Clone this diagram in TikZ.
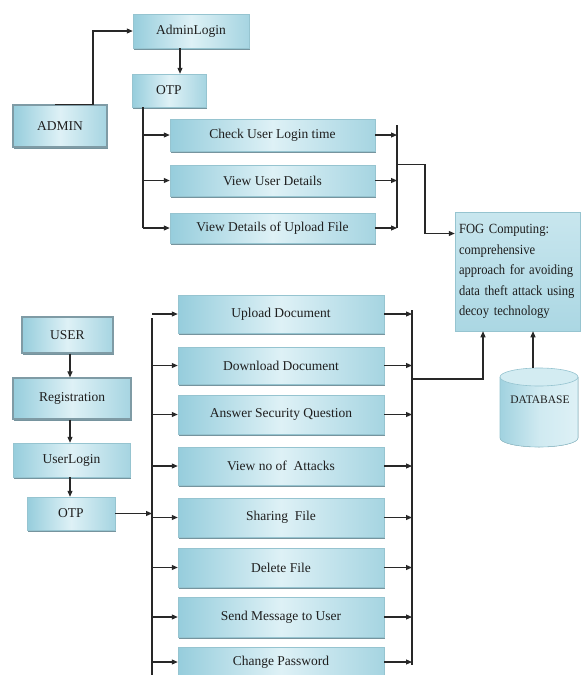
\documentclass[tikz,border=0pt]{standalone}
\usepackage{fontspec}
\setmainfont{Liberation Serif}
\newfontfamily\fogfont[FakeStretch=0.9]{Liberation Serif}
\usetikzlibrary{arrows.meta,shadows,calc}
\definecolor{boxside}{RGB}{150,205,220}
\definecolor{boxlight}{RGB}{222,241,246}
\definecolor{boxedge}{RGB}{150,196,208}
\definecolor{boxshadow}{RGB}{95,130,142}
\definecolor{textcol}{RGB}{30,30,30}
\definecolor{linecol}{RGB}{40,40,40}
\begin{document}
\begin{tikzpicture}[x=1pt,y=-1pt,
  box/.style={rectangle, draw=boxedge, line width=0.5pt,
    left color=boxside, right color=boxside!85!white, middle color=boxlight,
    drop shadow={shadow xshift=1.2pt, shadow yshift=-2.4pt, fill=boxshadow, opacity=0.85},
    font=\fontsize{13.5}{15}\selectfont, text=textcol, inner sep=2pt},
  bevel/.style={box, draw=boxshadow!80, line width=1.2pt},
  arr/.style={-{Triangle[length=6pt,width=5pt]}, line width=1.1pt, draw=linecol},
  ln/.style={line width=1.1pt, draw=linecol}]
\useasboundingbox[fill=white] (0,0) rectangle (581,675);

% admin part
\node[bevel, minimum width=94pt, minimum height=42pt] (admin) at (60,126) {ADMIN};
\node[box, minimum width=116pt, minimum height=34pt] (adminlogin) at (191,31) {AdminLogin};
\node[box, minimum width=74pt, minimum height=33pt] (otpa) at (169,90.5) {OTP};
\node[box, minimum width=205pt, minimum height=32pt] (check) at (272.5,135) {Check User Login time};
\node[box, minimum width=205pt, minimum height=31pt] (vud) at (272.5,180.5) {View User Details};
\node[box, minimum width=205pt, minimum height=30pt] (vdu) at (272.5,228) {View Details of Upload File};

% fog box
\node[rectangle, draw=boxedge, line width=0.5pt, top color=boxlight!70!boxside, bottom color=boxside!80!white,
  minimum width=125pt, minimum height=119pt, text width=117pt, inner xsep=4pt, inner ysep=3pt, align=left,
  font=\fogfont\fontsize{14}{20.5}\selectfont, text=textcol] (fog) at (517.5,271.5)
  {FOG Computing:\\comprehensive\\approach for avoiding\\data theft attack using\\decoy technology};

% database cylinder
\fill[left color=boxside!90!white, right color=boxlight, middle color=boxlight!80!boxside]
  (500,377) -- (500,438) .. controls (500,442.97) and (517.46,447) .. (539,447)
  .. controls (560.54,447) and (578,442.97) .. (578,438) -- (578,377) -- cycle;
\draw[boxedge, line width=0.6pt]
  (500,377) -- (500,438) .. controls (500,442.97) and (517.46,447) .. (539,447)
  .. controls (560.54,447) and (578,442.97) .. (578,438) -- (578,377);
\draw[boxedge, line width=0.6pt, fill=boxlight!85!boxside] (539,377) ellipse [x radius=39, y radius=9];
\node[font=\fontsize{11.5}{13}\selectfont, text=textcol] (db) at (540,400) {DATABASE};
\coordinate (dbtop) at (533,368);

% user part
\node[bevel, minimum width=91pt, minimum height=36pt] (user) at (67.5,335) {USER};
\node[bevel, minimum width=118pt, minimum height=41pt] (reg) at (72,398.5) {Registration};
\node[box, minimum width=117pt, minimum height=34pt] (ulogin) at (71.5,460) {UserLogin};
\node[box, minimum width=88pt, minimum height=33pt] (otpb) at (71,513.5) {OTP};

\node[box, minimum width=206pt, minimum height=38pt] (up) at (281,314) {Upload Document};
\node[box, minimum width=206pt, minimum height=37pt] (down) at (281,365.5) {Download Document};
\node[box, minimum width=206pt, minimum height=39pt] (ans) at (281,414.5) {Answer Security Question};
\node[box, minimum width=206pt, minimum height=38pt] (att) at (281,466) {View no of\ \ Attacks};
\node[box, minimum width=206pt, minimum height=39pt] (share) at (281,517.5) {Sharing\ \ File};
\node[box, minimum width=206pt, minimum height=39pt] (del) at (281,567.5) {Delete File};
\node[box, minimum width=206pt, minimum height=40pt] (send) at (281,617) {Send Message to User};
\node[box, minimum width=206pt, minimum height=30pt] (chg) at (281,662) {Change Password};

% admin connectors
\draw[arr] ([xshift=-5pt]admin.north) -- ([xshift=33pt]admin.north) |- (adminlogin.west);
\draw[arr] ([xshift=-11pt]adminlogin.south) -- ([xshift=-11pt]adminlogin.south |- otpa.north);
\coordinate (busa) at (143,107);
\draw[ln] (busa) -- (busa |- vdu.west);
\foreach \n in {check,vud,vdu} \draw[arr] (busa |- \n.west) -- (\n.west);
\coordinate (busb) at (397,125);
\draw[ln] (busb) -- (busb |- vdu.east);
\foreach \n in {check,vud,vdu} \draw[arr] (\n.east) -- (\n.east -| busb);
\draw[arr] (busb |- vud.north) -- ++(28,0) |- ([yshift=38pt]fog.west);

% user connectors
\coordinate (colx) at (70,0);
\draw[arr] (user.south -| colx) -- (reg.north -| colx);
\draw[arr] (reg.south -| colx) -- (ulogin.north -| colx);
\draw[arr] (ulogin.south -| colx) -- (otpb.north -| colx);
\coordinate (busc) at (152,318);
\coordinate (buscend) at (152,676);
\draw[ln] (busc) -- (buscend);
\draw[arr] (otpb.east) -- (otpb.east -| busc);
\foreach \n in {up,down,ans,att,share,del,send,chg} \draw[arr] (busc |- \n.west) -- (\n.west);
\coordinate (busd) at (412,310);
\coordinate (busdend) at (412,665);
\draw[ln] (busd) -- (busdend);
\foreach \n in {up,down,ans,att,share,del,send,chg} \draw[arr] (\n.east) -- (\n.east -| busd);
\coordinate (jd) at (412,379);
\draw[arr] (jd) -| ([xshift=-34.5pt]fog.south);
\draw[arr] (dbtop) -- (dbtop |- fog.south);
\end{tikzpicture}
\end{document}
